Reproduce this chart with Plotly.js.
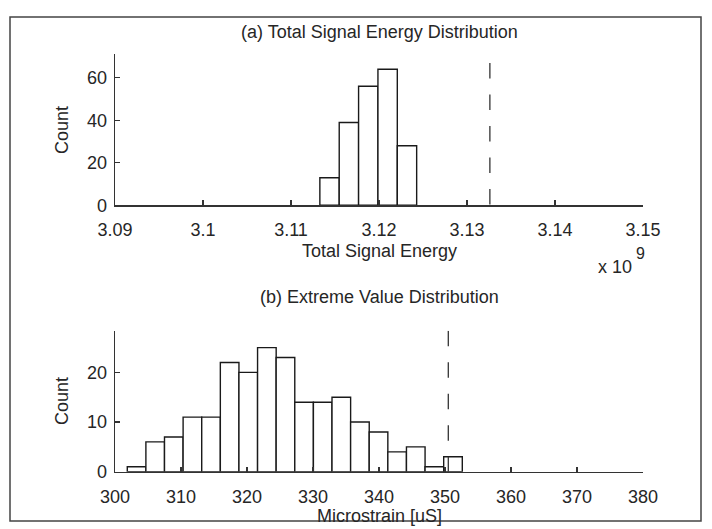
<!DOCTYPE html>
<html>
<head>
<meta charset="utf-8">
<script src="https://cdn.plot.ly/plotly-3.0.1.min.js"></script>
<style>html,body{margin:0;padding:0;background:#fff;}#chart{width:712px;height:529px;}</style>
</head>
<body>
<div id="chart"></div>
<script>
// (a) Total signal energy histogram (x in units of 1e9)
const energyBinCenters = [3.11438, 3.11658, 3.11878, 3.12098, 3.12318];
const energyCounts = [13, 39, 56, 64, 28];
const energyBinWidth = 0.0022;
const energyThreshold = 3.1326;
const energyTickVals = [3.09, 3.10, 3.11, 3.12, 3.13, 3.14, 3.15];
const energyTickText = ["3.09", "3.1", "3.11", "3.12", "3.13", "3.14", "3.15"];

// (b) Extreme value histogram (microstrain)
const strainBinCenters = [303.27, 306.09, 308.91, 311.73, 314.55, 317.37, 320.19, 323.01, 325.83,
                          328.65, 331.47, 334.29, 337.11, 339.93, 342.75, 345.57, 348.39, 351.21];
const strainCounts = [1, 6, 7, 11, 11, 22, 20, 25, 23, 14, 14, 15, 10, 8, 4, 5, 1, 3];
const strainBinWidth = 2.82;
const strainThreshold = 350.5;
const strainTickVals = [300, 310, 320, 330, 340, 350, 360, 370, 380];

const W = 712, H = 529;
const px = v => v / W;
const py = v => 1 - v / H;

const ink = '#262626';
const font = {family: 'Liberation Sans, Arial, sans-serif', size: 18, color: ink};

const traces = [
  {type: 'bar', x: energyBinCenters, y: energyCounts, width: energyBinWidth,
   marker: {color: '#ffffff', line: {color: '#1a1a1a', width: 1.4}},
   xaxis: 'x', yaxis: 'y', hoverinfo: 'x+y', showlegend: false},
  {type: 'scatter', mode: 'lines', x: [energyThreshold, energyThreshold], y: [67, 0],
   line: {color: '#333', width: 1.3, dash: '15.5px,16px'},
   xaxis: 'x', yaxis: 'y', showlegend: false},
  {type: 'bar', x: strainBinCenters, y: strainCounts, width: strainBinWidth,
   marker: {color: '#ffffff', line: {color: '#1a1a1a', width: 1.4}},
   xaxis: 'x2', yaxis: 'y2', hoverinfo: 'x+y', showlegend: false},
  {type: 'scatter', mode: 'lines', x: [strainThreshold, strainThreshold], y: [28.4, 0],
   line: {color: '#333', width: 1.3, dash: '15.5px,16px'},
   xaxis: 'x2', yaxis: 'y2', showlegend: false}
];

const axisCommon = {
  showline: true, linecolor: '#333', linewidth: 1.3, mirror: false,
  ticks: 'inside', ticklen: 5, tickwidth: 1.3, tickcolor: '#333',
  showgrid: false, zeroline: false, tickfont: font, fixedrange: true
};

const layout = {
  width: W, height: H,
  margin: {l: 0, r: 0, t: 0, b: 0},
  paper_bgcolor: '#ffffff', plot_bgcolor: '#ffffff',
  font: font,
  showlegend: false,
  bargap: 0,
  xaxis: Object.assign({}, axisCommon, {
    domain: [px(115), px(643)], range: [3.09, 3.15], anchor: 'y',
    tickvals: energyTickVals, ticktext: energyTickText, ticklabelstandoff: 8
  }),
  yaxis: Object.assign({}, axisCommon, {
    domain: [py(205.3), py(54)], range: [0, 71.2], anchor: 'x',
    tickvals: [0, 20, 40, 60], ticklabelstandoff: 3
  }),
  xaxis2: Object.assign({}, axisCommon, {
    domain: [px(115), px(643)], range: [300, 380], anchor: 'y2',
    tickvals: strainTickVals, ticklabelstandoff: 8
  }),
  yaxis2: Object.assign({}, axisCommon, {
    domain: [py(471.7), py(330.7)], range: [0, 28.4], anchor: 'x2',
    tickvals: [0, 10, 20], ticklabelstandoff: 3
  }),
  shapes: [
    {type: 'rect', xref: 'paper', yref: 'paper',
     x0: px(10), x1: px(701), y0: py(521), y1: py(17),
     line: {color: '#444', width: 1.5}, fillcolor: 'rgba(0,0,0,0)', layer: 'below'}
  ],
  annotations: [
    {text: '(a) Total Signal Energy Distribution', xref: 'paper', yref: 'paper',
     x: px(379), y: py(32), xanchor: 'center', yanchor: 'middle', showarrow: false, font: font},
    {text: 'Total Signal Energy', xref: 'paper', yref: 'paper',
     x: px(379), y: py(251), xanchor: 'center', yanchor: 'middle', showarrow: false, font: font},
    {text: 'x 10', xref: 'paper', yref: 'paper',
     x: px(634), y: py(267), xanchor: 'right', yanchor: 'middle', showarrow: false, font: font},
    {text: '9', xref: 'paper', yref: 'paper',
     x: px(634), y: py(254), xanchor: 'left', yanchor: 'middle', showarrow: false,
     font: {family: font.family, size: 16, color: ink}},
    {text: 'Count', xref: 'paper', yref: 'paper', textangle: -90,
     x: px(62), y: py(130), xanchor: 'center', yanchor: 'middle', showarrow: false, font: font},
    {text: '(b) Extreme Value Distribution', xref: 'paper', yref: 'paper',
     x: px(379), y: py(297), xanchor: 'center', yanchor: 'middle', showarrow: false, font: font},
    {text: 'Microstrain [uS]', xref: 'paper', yref: 'paper',
     x: px(379), y: py(516), xanchor: 'center', yanchor: 'middle', showarrow: false, font: font},
    {text: 'Count', xref: 'paper', yref: 'paper', textangle: -90,
     x: px(62), y: py(401), xanchor: 'center', yanchor: 'middle', showarrow: false, font: font}
  ]
};

Plotly.newPlot('chart', traces, layout, {displayModeBar: false, staticPlot: true});
</script>
</body>
</html>
